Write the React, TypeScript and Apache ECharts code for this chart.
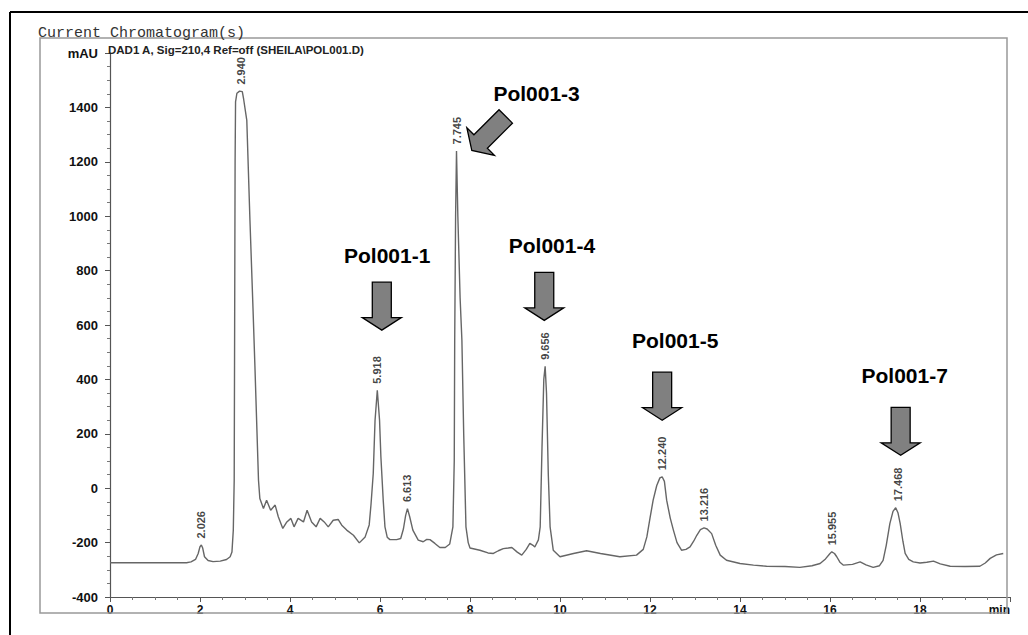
import React, { useEffect, useRef } from "react";
import * as echarts from "echarts";

// Chromatogram trace (retention time in min, absorbance in mAU)
const chromTimes = [
  0.0, 1.7, 1.8, 1.9, 1.96, 2.0, 2.03, 2.06, 2.1, 2.18, 2.29, 2.45, 2.59, 2.67, 2.71, 2.74, 2.76, 2.77, 2.78, 2.79,
  2.82, 2.88, 2.94, 2.97, 3.04, 3.11, 3.18, 3.22, 3.3, 3.33, 3.41, 3.48, 3.57, 3.67, 3.74, 3.84, 3.93, 4.02, 4.09, 4.18,
  4.3, 4.38, 4.48, 4.58, 4.67, 4.76, 4.85, 4.96, 5.07, 5.15, 5.26, 5.41, 5.54, 5.67, 5.76, 5.8, 5.85, 5.89, 5.94, 5.99,
  6.02, 6.07, 6.11, 6.16, 6.22, 6.37, 6.46, 6.52, 6.57, 6.61, 6.66, 6.73, 6.85, 6.96, 7.04, 7.11, 7.22, 7.33, 7.45, 7.55,
  7.62, 7.65, 7.66, 7.68, 7.7, 7.73, 7.78, 7.82, 7.86, 7.91, 7.96, 8.0, 8.22, 8.4, 8.52, 8.63, 8.74, 8.85, 8.93, 9.05,
  9.15, 9.25, 9.33, 9.4, 9.44, 9.52, 9.56, 9.6, 9.64, 9.67, 9.7, 9.74, 9.78, 9.85, 10.0, 10.3, 10.59, 10.9, 11.33, 11.7,
  11.85, 11.93, 12.0, 12.07, 12.15, 12.22, 12.27, 12.32, 12.37, 12.45, 12.52, 12.6, 12.7, 12.8, 12.89, 12.97, 13.04, 13.12, 13.2, 13.27,
  13.37, 13.46, 13.56, 13.7, 14.0, 14.3, 14.59, 15.0, 15.33, 15.6, 15.78, 15.9, 16.0, 16.04, 16.1, 16.15, 16.22, 16.3, 16.5, 16.67,
  16.8, 16.96, 17.1, 17.18, 17.25, 17.33, 17.4, 17.46, 17.51, 17.56, 17.62, 17.67, 17.75, 17.85, 18.0, 18.15, 18.3, 18.45, 18.67, 19.0,
  19.33, 19.45, 19.56, 19.7, 19.85,
];
const chromValues = [
  -274, -274, -271, -262, -240, -215, -209, -220, -252, -266, -270, -268, -262, -252, -235, -154, 29, 600, 1200, 1420,
  1452, 1460, 1458, 1430, 1352, 985, 650, 450, 29, -38, -75, -44, -81, -62, -105, -148, -124, -111, -142, -111,
  -124, -81, -124, -142, -111, -124, -142, -118, -115, -136, -154, -173, -201, -179, -135, -60, 54, 250, 360, 250,
  115, -40, -142, -180, -189, -189, -185, -150, -100, -75, -105, -154, -191, -197, -188, -189, -203, -218, -218, -205,
  -142, 100, 544, 1000, 1240, 1000, 700, 544, 200, -142, -200, -220, -228, -238, -240, -230, -222, -220, -218, -235,
  -246, -225, -203, -210, -216, -190, -142, 150, 400, 448, 350, 50, -142, -228, -252, -240, -230, -240, -252, -246,
  -225, -179, -110, -44, 10, 38, 42, 25, -44, -110, -154, -200, -228, -225, -216, -195, -173, -152, -146, -150,
  -167, -210, -246, -265, -277, -283, -287, -288, -291, -285, -277, -260, -240, -234, -240, -252, -272, -283, -280, -271,
  -282, -291, -285, -265, -210, -130, -85, -72, -90, -130, -195, -240, -262, -271, -275, -272, -268, -278, -287, -288,
  -287, -275, -258, -245, -240,
];

// Integrated peak apex positions and their retention-time labels
const peakTimes = [2.03, 2.91, 5.94, 6.61, 7.7, 9.67, 12.27, 13.2, 16.04, 17.5];
const peakValues = [-209, 1460, 360, -75, 1240, 448, 42, -146, -234, -72];
const peakLabels = ["2.026", "2.940", "5.918", "6.613", "7.745", "9.656", "12.240", "13.216", "15.955", "17.468"];

// Compound annotations (arrow tip and label anchor in data coordinates)
const annotationLabels = ["Pol001-1", "Pol001-3", "Pol001-4", "Pol001-5", "Pol001-7"];
const arrowTipTimes = [6.04, 8.04, 9.65, 12.27, 17.57];
const arrowTipValues = [581, 1242, 617, 250, 121];
const arrowAngles = [0, 45, 0, 0, 0];
const labelTimes = [6.16, 9.48, 9.82, 12.56, 17.66];
const labelValues = [856, 1452, 893, 544, 415];

// Axis ticks
const xMin = 0;
const xMax = 20;
const xInterval = 2;
const yMin = -400;
const yMax = 1600;
const yInterval = 200;

const AXIS_FONT = "Liberation Sans";

export default function App() {
  const ref = useRef<HTMLDivElement | null>(null);

  useEffect(() => {
    if (!ref.current) return;
    const chart = echarts.init(ref.current, null, { renderer: "svg" });

    const lineData = chromTimes.map((t, i) => [t, chromValues[i]]);
    const peakData = peakTimes.map((t, i) => ({ value: [t, peakValues[i]], name: peakLabels[i] }));

    chart.setOption({
      animation: false,
      backgroundColor: "#ffffff",
      grid: { left: 110, right: 18, top: 53, bottom: 38, containLabel: false },
      xAxis: {
        type: "value",
        min: xMin,
        max: xMax,
        interval: xInterval,
        axisLine: { show: true, onZero: false, lineStyle: { color: "#555", width: 1.2 } },
        axisTick: { show: true, length: 5, lineStyle: { color: "#555" } },
        minorTick: { show: true, splitNumber: 4, length: 3, lineStyle: { color: "#777" } },
        splitLine: { show: false },
        axisLabel: {
          margin: 7,
          color: "#111",
          fontFamily: AXIS_FONT,
          fontWeight: "bold",
          fontSize: 12,
          alignMaxLabel: "right",
          formatter: (v: number) => (v === xMax ? "min" : String(v)),
        },
      },
      yAxis: {
        type: "value",
        min: yMin,
        max: yMax,
        interval: yInterval,
        axisLine: { show: true, lineStyle: { color: "#555", width: 1.2 } },
        axisTick: { show: true, length: 5, lineStyle: { color: "#555" } },
        minorTick: { show: true, splitNumber: 4, length: 3, lineStyle: { color: "#777" } },
        splitLine: { show: false },
        axisLabel: {
          margin: 12,
          color: "#111",
          fontFamily: AXIS_FONT,
          fontWeight: "bold",
          fontSize: 13,
          formatter: (v: number) => (v === yMax ? "mAU" : String(v)),
        },
      },
      series: [
        {
          type: "line",
          data: lineData,
          showSymbol: false,
          symbol: "none",
          lineStyle: { color: "#666", width: 1.4 },
          z: 2,
        },
        {
          type: "scatter",
          data: peakData,
          symbolSize: 1,
          itemStyle: { color: "rgba(0,0,0,0)" },
          label: {
            show: true,
            position: "top",
            distance: 6,
            rotate: 90,
            align: "left",
            verticalAlign: "middle",
            formatter: (p: any) => p.name,
            color: "#111",
            fontFamily: AXIS_FONT,
            fontWeight: "bold",
            fontSize: 11,
          },
          z: 3,
        },
      ],
    });

    const graphics: any[] = [
      {
        type: "line",
        shape: { x1: 10, y1: 12, x2: 1028, y2: 12 },
        style: { stroke: "#000", lineWidth: 2 },
        z: 50,
        silent: true,
      },
      {
        type: "line",
        shape: { x1: 10, y1: 12, x2: 10, y2: 635 },
        style: { stroke: "#000", lineWidth: 2 },
        z: 50,
        silent: true,
      },
      {
        type: "rect",
        shape: { x: 40, y: 38, width: 967, height: 575 },
        style: { fill: "none", stroke: "#999", lineWidth: 1.5 },
        z: 1,
        silent: true,
      },
      {
        type: "text",
        x: 38,
        y: 33,
        style: {
          text: "Current Chromatogram(s)",
          fontFamily: "Liberation Mono",
          fontSize: 15,
          fill: "#333",
          verticalAlign: "middle",
          align: "left",
        },
        z: 50,
      },
      {
        type: "text",
        x: 108,
        y: 50,
        style: {
          text: "DAD1 A, Sig=210,4 Ref=off (SHEILA\\POL001.D)",
          fontFamily: AXIS_FONT,
          fontWeight: "bold",
          fontSize: 11.5,
          fill: "#222",
          verticalAlign: "middle",
          align: "left",
        },
        z: 50,
      },
    ];

    const arrowPoints = [
      [0, 0],
      [-19.5, -12.5],
      [-9.5, -12.5],
      [-9.5, -48],
      [9.5, -48],
      [9.5, -12.5],
      [19.5, -12.5],
    ];

    annotationLabels.forEach((label, i) => {
      const tip = chart.convertToPixel({ gridIndex: 0 }, [arrowTipTimes[i], arrowTipValues[i]]) as number[];
      const lp = chart.convertToPixel({ gridIndex: 0 }, [labelTimes[i], labelValues[i]]) as number[];
      graphics.push({
        type: "polygon",
        x: tip[0],
        y: tip[1],
        rotation: (-arrowAngles[i] * Math.PI) / 180,
        shape: { points: arrowPoints },
        style: { fill: "#808080", stroke: "#000", lineWidth: 1.3 },
        z: 60,
      });
      graphics.push({
        type: "text",
        x: lp[0],
        y: lp[1],
        style: {
          text: label,
          fontFamily: AXIS_FONT,
          fontWeight: "bold",
          fontSize: 21,
          fill: "#000",
          align: "center",
          verticalAlign: "middle",
        },
        z: 60,
      });
    });

    chart.setOption({ graphic: graphics });

    return () => {
      chart.dispose();
    };
  }, []);

  return (
    <div
      ref={ref}
      style={{ position: "fixed", left: 0, top: 0, width: 1028, height: 635, background: "#fff" }}
    />
  );
}
